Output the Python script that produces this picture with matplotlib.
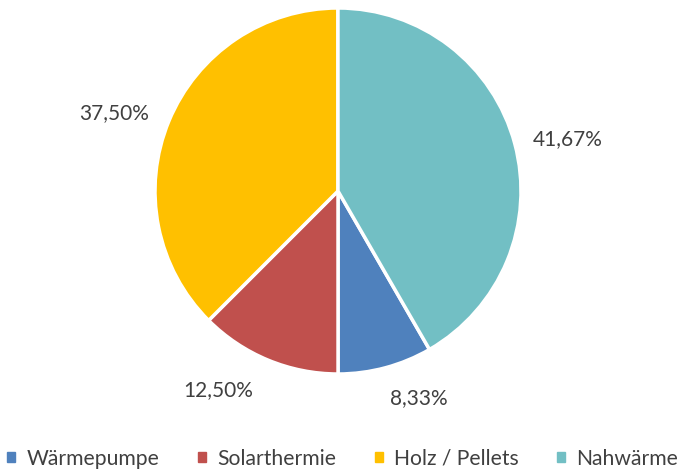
import numpy as np
import matplotlib.pyplot as plt

# Anteil der Heizungsarten
categories = ["Wärmepumpe", "Solarthermie", "Holz / Pellets", "Nahwärme"]
values = [8.33, 12.50, 37.50, 41.67]
colors = ["#4F81BD", "#C0504D", "#FFC000", "#72BFC4"]

# label placement (Excel "best fit"): radial distance and angle shift
label_dist = [1.204, 1.261, 1.300, 1.291]
label_shift = [6.6, -8.85, 2.85, -1.8]

plt.rcParams["font.family"] = ["Lato", "DejaVu Sans"]

fig = plt.figure(figsize=(6.79, 4.72), dpi=100)
# pie area: centre (338,191) px, radius 183 px
r = 183
ax = fig.add_axes([(338 - r) / 679, (472 - 191 - r) / 472, 2 * r / 679, 2 * r / 472])

wedges, texts = ax.pie(values, colors=colors, startangle=-60, counterclock=False,
                       radius=1.0,
                       wedgeprops=dict(edgecolor="white", linewidth=2.5))
ax.set_xlim(-1, 1)
ax.set_ylim(-1, 1)
ax.set_aspect("equal")
ax.axis("off")

for w, v, d, s in zip(wedges, values, label_dist, label_shift):
    ang = np.deg2rad((w.theta1 + w.theta2) / 2 + s)
    ax.text(d * np.cos(ang), d * np.sin(ang), f"{v:.2f}%".replace(".", ","),
            ha="center", va="center_baseline", fontsize=15, color="#404040",
            clip_on=False)

handles = [plt.Rectangle((0, 0), 1, 1, color=c) for c in colors]
fig.legend(handles, categories, loc="center", bbox_to_anchor=(0.505, 0.028),
           ncol=4, frameon=False, fontsize=15.2, labelcolor="#404040",
           handlelength=0.38, handleheight=0.38, handletextpad=0.55,
           columnspacing=1.8, borderpad=0)

fig.savefig("out.png", dpi=100)
